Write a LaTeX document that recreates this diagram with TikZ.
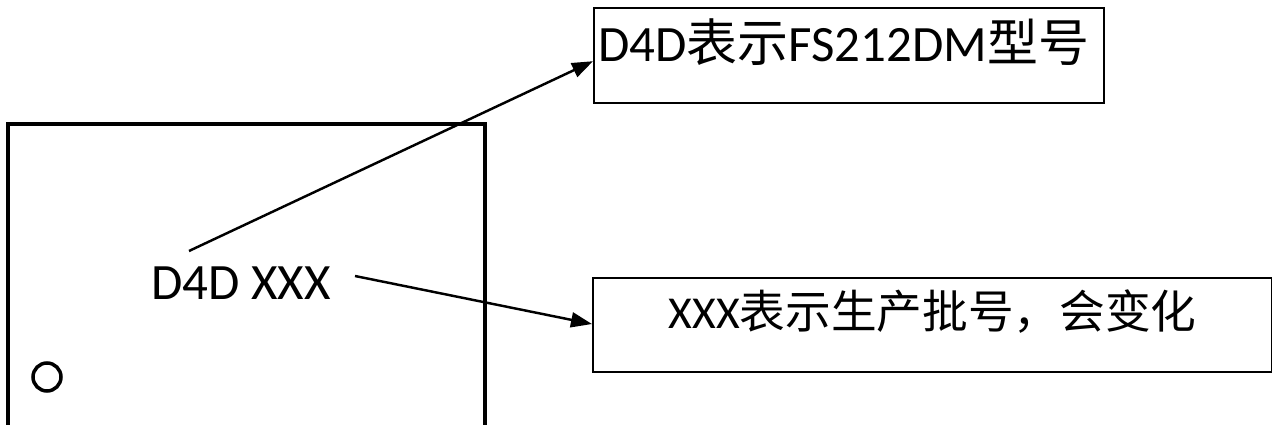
\documentclass[tikz,border=0pt]{standalone}
\usepackage{fontspec}
\setmainfont{Carlito}
\newfontfamily\cjk{Noto Sans CJK SC}
\usetikzlibrary{arrows.meta}
\begin{document}
\begin{tikzpicture}[x=0.02cm,y=-0.02cm,
  big/.style={font=\fontsize{29}{34}\selectfont},
  tbox/.style={draw,line width=1.4pt,inner xsep=0.08cm,inner ysep=0pt,anchor=north west},
  arr/.style={line width=1.4pt,-{Triangle[length=0.42cm,width=0.3cm]}}]
\useasboundingbox (0,0) rectangle (1272,425);
\draw [line width=2.2pt] (8,425) -- (8,124) -- (485,124) -- (485,425);
\draw [line width=2pt] (47,377) circle [radius=0.28cm];
\node [big] (chip) at (241,283) {D4D XXX};
\node [tbox,big,text width=10.04cm,align=left,text height=1.06cm,text depth=0.84cm] (model) at (593,7) {D4D{\cjk 表示}FS212DM{\cjk 型号}};
\node [tbox,font=\fontsize{26}{32}\selectfont,text width=13.42cm,align=center,text height=1cm,text depth=0.88cm] (batch) at (592,277) {XXX{\cjk 表示生产批号，会变化}};
\coordinate (p1) at (189,251);
\coordinate (p2) at (355,276);
\draw [arr] (p1) -- (model.base west);
\draw [arr] (p2) -- (batch.mid west);
\end{tikzpicture}
\end{document}
